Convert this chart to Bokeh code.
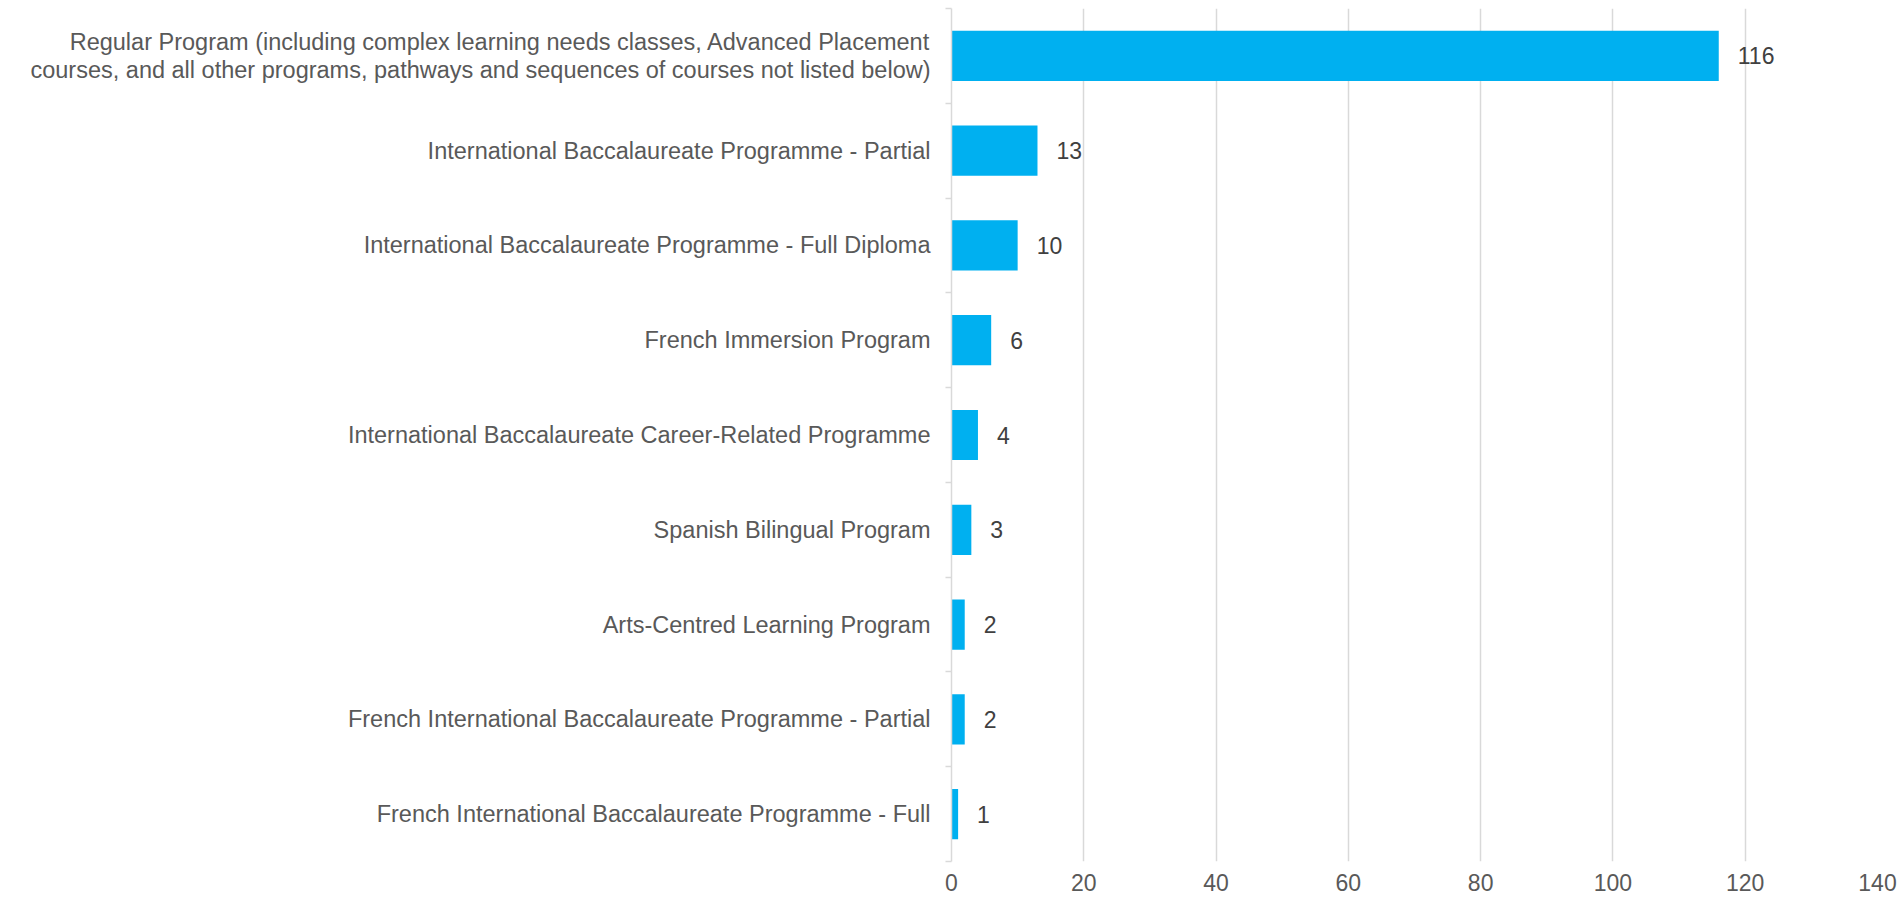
from bokeh.plotting import figure
from bokeh.models import FixedTicker, ColumnDataSource, Range1d
from bokeh.embed import file_html
from bokeh.resources import INLINE
from bokeh.core.properties import value

categories = [
    "Regular Program (including complex learning needs classes, Advanced Placement\ncourses, and all other programs, pathways and sequences of courses not listed below)",
    "International Baccalaureate Programme - Partial",
    "International Baccalaureate Programme - Full Diploma",
    "French Immersion Program",
    "International Baccalaureate Career-Related Programme",
    "Spanish Bilingual Program",
    "Arts-Centred Learning Program",
    "French International Baccalaureate Programme - Partial",
    "French International Baccalaureate Programme - Full",
]
counts = [116, 13, 10, 6, 4, 3, 2, 2, 1]
x_ticks = [0, 20, 40, 60, 80, 100, 120, 140]

FONT = "Liberation Sans"
n = len(categories)
ypos = [n - 0.5 - i for i in range(n)]

src = ColumnDataSource(dict(y=ypos, x=counts, label=[str(c) for c in counts]))

p = figure(width=1901, height=899,
           x_range=Range1d(x_ticks[0], x_ticks[-1]), y_range=Range1d(0, n),
           output_backend="svg", toolbar_location=None,
           min_border_left=951, min_border_right=24,
           min_border_top=8, min_border_bottom=38)
p.outline_line_color = None
p.background_fill_color = "white"

p.hbar(y="y", right="x", left=0, height=0.53, source=src,
       fill_color="#00B0F0", line_color=None)
p.text(x="x", y="y", text="label", source=src, x_offset=19,
       text_baseline="middle", text_align="left",
       text_font=value(FONT), text_font_size="23px", text_color="#404040")

# x axis
xa = p.xaxis[0]
xa.ticker = FixedTicker(ticks=x_ticks)
xa.axis_line_color = None
xa.major_tick_line_color = None
xa.minor_tick_line_color = None
xa.major_tick_out = 0
xa.major_tick_in = 0
xa.major_label_standoff = 12
xa.major_label_text_font = FONT
xa.major_label_text_font_size = "23px"
xa.major_label_text_color = "#595959"

p.xgrid.ticker = FixedTicker(ticks=x_ticks)
p.xgrid.grid_line_color = "#D9D9D9"
p.xgrid.grid_line_width = 1.5
p.ygrid.grid_line_color = None

# y axis: labels at category centres, ticks at boundaries
ya = p.yaxis[0]
ya.ticker = FixedTicker(ticks=ypos, minor_ticks=list(range(n + 1)))
ya.major_label_overrides = {y: c for y, c in zip(ypos, categories)}
ya.axis_line_color = "#D9D9D9"
ya.axis_line_width = 1.5
ya.major_tick_line_color = None
ya.major_tick_out = 0
ya.major_tick_in = 0
ya.minor_tick_line_color = "#D9D9D9"
ya.minor_tick_line_width = 1.5
ya.minor_tick_out = 6
ya.minor_tick_in = 0
ya.major_label_standoff = 15
ya.major_label_text_font = FONT
ya.major_label_text_font_size = "23.5px"
ya.major_label_text_color = "#595959"
ya.major_label_text_line_height = 1.07

open("out.html", "w").write(file_html(p, INLINE))
